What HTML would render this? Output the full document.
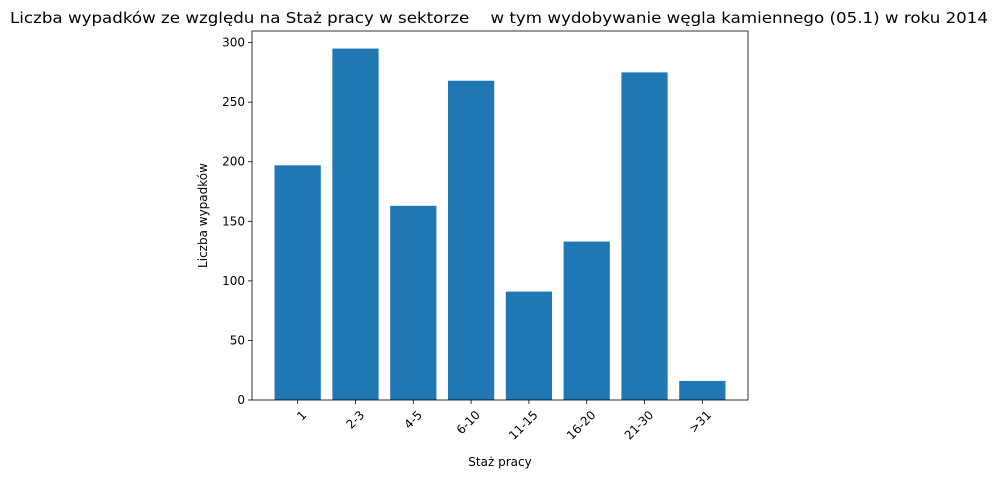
<!DOCTYPE html>
<html><head><meta charset="utf-8"><style>
body{margin:0;background:#fff;}
svg{display:block;font-family:"DejaVu Sans","Liberation Sans",sans-serif;}
</style></head><body>
<svg id="chart" width="999" height="478"></svg>
<script>
const categories=["1","2-3","4-5","6-10","11-15","16-20","21-30",">31"];
const values=[197,295,163,268,91,133,275,16];
const yTicks=[0,50,100,150,200,250,300];
const NS="http://www.w3.org/2000/svg";
const svg=document.getElementById('chart');
const L=252,R=748,T=31,B=400;
const xMin=-0.79,xMax=7.79,yMax=309.75;
const x=v=>L+(v-xMin)/(xMax-xMin)*(R-L);
const y=v=>B-v/yMax*(B-T);
function mk(t,a,txt){const e=document.createElementNS(NS,t);for(const k in a)e.setAttribute(k,a[k]);if(txt!==undefined)e.textContent=txt;svg.appendChild(e);return e;}
values.forEach((v,i)=>{
 const w=(x(0.4)-x(-0.4));
 const r=mk('rect',{x:x(i-0.4),y:y(v),width:w,height:B-y(v),fill:'#1f77b4'});
 
 
 const tk=mk('line',{x1:x(i),x2:x(i),y1:B,y2:B+4,stroke:'#000','stroke-width':0.8});
 
 
 const tx=x(i),ty=B+18;
 const lb=mk('text',{x:tx+4,y:ty,'font-size':12,'text-anchor':'end',transform:`rotate(-45 ${tx+4} ${ty-8})`},categories[i]);
 
 
});
yTicks.forEach(v=>{
 const tk=mk('line',{x1:L-4,x2:L,y1:y(v),y2:y(v),stroke:'#000','stroke-width':0.8});
 
 
 const lb=mk('text',{x:L-7,y:y(v)+4,'font-size':12,'text-anchor':'end'},v);
 
 
});
const fr=mk('rect',{x:L,y:T,width:R-L,height:B-T,fill:'none',stroke:'#000','stroke-width':0.8});


const xt=mk('text',{x:(L+R)/2,y:466,'font-size':12,'text-anchor':'middle'},'Staż pracy');


const yt=mk('text',{x:0,y:0,'font-size':12,'text-anchor':'middle',transform:`translate(207 ${(T+B)/2}) rotate(-90)`},'Liczba wypadków');


const tt=mk('text',{x:10,y:23,'font-size':15,textLength:978,lengthAdjust:'spacingAndGlyphs',style:'white-space:pre'},'Liczba wypadków ze względu na Staż pracy w sektorze    w tym wydobywanie węgla kamiennego (05.1) w roku 2014');


</script>
</body></html>
